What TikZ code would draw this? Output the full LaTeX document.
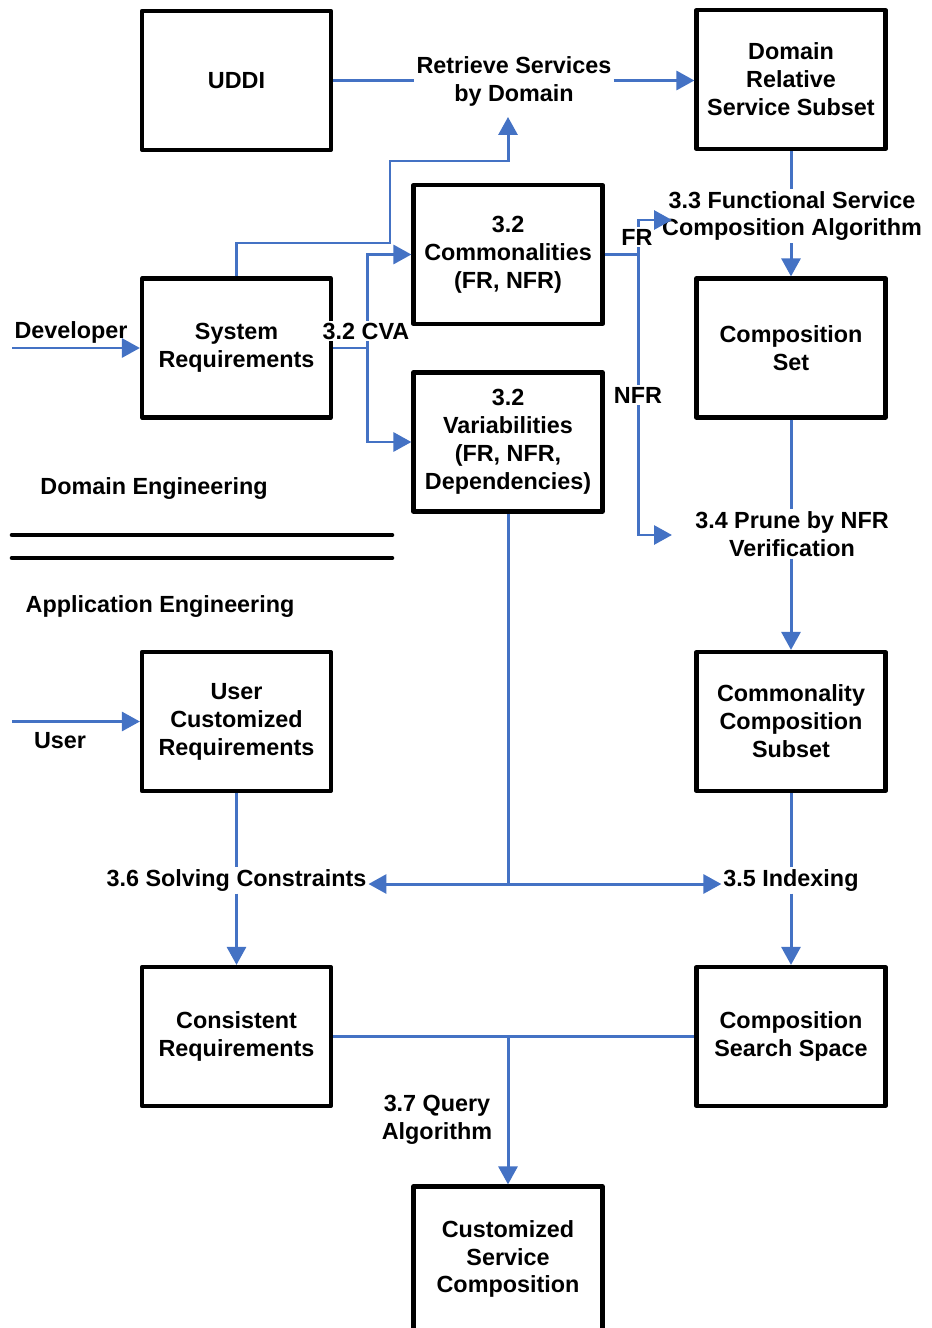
\documentclass[tikz,border=0pt]{standalone}
\usepackage{fontspec}
\setmainfont{Liberation Sans}
\usetikzlibrary{arrows.meta}
\definecolor{flowblue}{RGB}{68,114,196}

\begin{document}
\begin{tikzpicture}[x=0.02cm, y=-0.02cm,
		every node/.style={font=\fontsize{13.3}{15.9}\selectfont\bfseries, align=center},
		block/.style={draw, line width=2.4pt, line join=round, minimum width=3.78cm, minimum height=2.78cm, inner sep=0pt},
		lbl/.style={fill=white, inner sep=1pt},
		flow/.style={color=flowblue, line width=1.7pt},
		tip/.style={-{Triangle[length=0.36cm, width=0.38cm]}}]
		\useasboundingbox (0,0) rectangle (932,1328);
		\clip (0,0) rectangle (932,1328);

		\node[block] (uddi) at (236.5,80.5) {UDDI};
		\node[block] (domain) at (791,79.5) {Domain\\Relative\\Service Subset};
		\node[block] (common) at (508,254.5) {3.2\\Commonalities\\(FR, NFR)};
		\node[block] (sysreq) at (236.5,348) {System\\Requirements};
		\node[block] (compset) at (791,348) {Composition\\Set};
		\node[block] (variab) at (508,442) {3.2\\Variabilities\\(FR, NFR,\\Dependencies)};
		\node[block] (usercust) at (236.5,721.5) {User\\Customized\\Requirements};
		\node[block] (commsub) at (791,721.5) {Commonality\\Composition\\Subset};
		\node[block] (consist) at (236.5,1036.5) {Consistent\\Requirements};
		\node[block] (space) at (791,1036.5) {Composition\\Search Space};
		\node[block, minimum height=2.9cm] (custom) at (508,1259) {Customized\\Service\\Composition};

		\node[lbl] (retrieve) at (514,81) {Retrieve Services\\by Domain};
		\node[lbl] (funcalg) at (792,216) {3.3 Functional Service\\Composition Algorithm};
		\node[lbl] (prune) at (792,534) {3.4 Prune by NFR\\Verification};
		\node[lbl] (index) at (791,880.5) {3.5 Indexing};
		\node[lbl] (solve) at (236.5,880.5) {3.6 Solving Constraints};
		\node[lbl] (query) at (437,1120) {3.7 Query\\Algorithm};
		\node (developer) at (71,332) {Developer};
		\node (user) at (60,741) {User};
		\node (domeng) at (154,489) {Domain Engineering};
		\node (appeng) at (160,607) {Application Engineering};

		\coordinate (devin) at (12,348);
		\coordinate (userin) at (12,721.5);
		\coordinate (frtip) at (672,220);
		\coordinate (nfrtip) at (672,535);
		\coordinate (split) at (508,884);

		\draw[line width=2.6pt, line cap=round] (12,535) -- (392,535);
		\draw[line width=2.6pt, line cap=round] (12,558) -- (392,558);

		\draw[flow] (uddi.east) -- (uddi.east -| retrieve.west);
		\draw[flow] (domain.south) -- (domain.south |- funcalg.north);
		\draw[flow] (compset.south) -- (compset.south |- prune.north);
		\draw[flow] (commsub.south) -- (index.north);
		\draw[flow] (usercust.south) -- (solve.north);
		\draw[flow] (variab.south) -- (split);
		\draw[flow] (consist.east) -- (space.west);

		\begin{scope}[tip]
			\draw[flow] (retrieve.east |- uddi.east) -- (retrieve.east |- uddi.east -| domain.west);
			\draw[flow] (sysreq.north) |- (390,243) |- (508,161) -- ([yshift=-0.18cm]common.north |- retrieve.south);
			\draw[flow] (sysreq.east) -- ++(34,0) |- (common.west);
			\draw[flow] (sysreq.east) -- ++(34,0) |- (variab.west);
			\draw[flow] (common.east) -- ++(34,0) |- (frtip);
			\draw[flow] (common.east) -- ++(34,0) |- (nfrtip);
			\draw[flow] (compset.north |- funcalg.south) -- (compset.north);
			\draw[flow] (commsub.north |- prune.south) -- (commsub.north);
			\draw[flow] (index.south) -- (space.north);
			\draw[flow] (solve.south) -- (consist.north);
			\draw[flow] (split) -- (split -| solve.east);
			\draw[flow] (split) -- (split -| index.west);
			\draw[flow] (custom.north |- consist.east) -- (custom.north);
			\draw[flow] (devin) -- (sysreq.west);
			\draw[flow] (userin) -- (usercust.west);
		\end{scope}

		\node[lbl] (cva) at (366,331) {3.2 CVA};
		\node[lbl] (fr) at (637,237) {FR};
		\node[lbl] (nfr) at (638,395) {NFR};
	\end{tikzpicture}
\end{document}
